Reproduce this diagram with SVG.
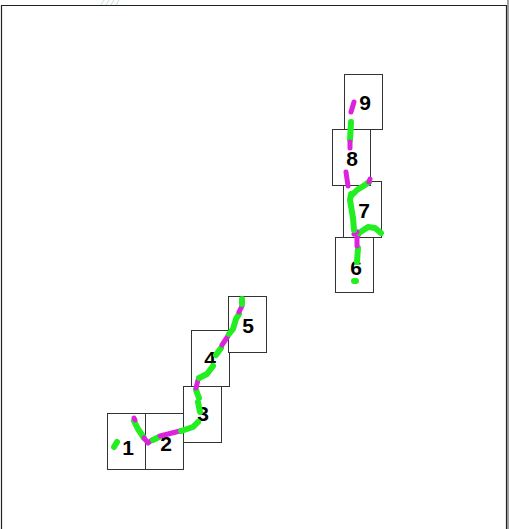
<svg xmlns="http://www.w3.org/2000/svg" width="509" height="529" viewBox="0 0 509 529">
<style>
.box{fill:#fff;stroke:#333;stroke-width:1}
.lbl{font-family:"Liberation Sans",Arial,sans-serif;font-weight:bold;font-size:21px;fill:#000;text-anchor:middle}
.g{fill:none;stroke:#22ee22;stroke-width:6;stroke-linecap:round;stroke-linejoin:round}
.m{fill:none;stroke:#dd22dd;stroke-width:5;stroke-linecap:round;stroke-linejoin:round}
</style>
<rect width="509" height="529" fill="#fff"/>
<path d="M1.5 529V5.5H506.5V529" fill="none" stroke="#222" stroke-width="1.2"/>
<line x1="508" y1="0" x2="508" y2="529" stroke="#444" stroke-width="1"/>
<path d="M101 5l3-5M106 5l3-5M111 5l3-5M116 5l3-5" stroke="#8bb" stroke-width="0.8" opacity="0.6"/>
<g id="node1"><rect class="box" x="107.5" y="413.5" width="38" height="56"/><text class="lbl" x="128" y="455">1</text></g>
<g id="node2"><rect class="box" x="145.5" y="413.5" width="38" height="56"/><text class="lbl" x="166" y="451">2</text></g>
<g id="node3"><rect class="box" x="183.5" y="386.5" width="38" height="56"/><text class="lbl" x="203" y="421">3</text></g>
<g id="node4"><rect class="box" x="191.5" y="330.5" width="38" height="56"/><text class="lbl" x="210" y="366">4</text></g>
<g id="node5"><rect class="box" x="228.5" y="296.5" width="38" height="56"/><text class="lbl" x="248" y="333">5</text></g>
<g id="node6"><rect class="box" x="335.5" y="237.5" width="38" height="55"/><text class="lbl" x="356" y="275">6</text></g>
<g id="node7"><rect class="box" x="343.5" y="181.5" width="38" height="56"/><text class="lbl" x="364" y="218">7</text></g>
<g id="node8"><rect class="box" x="332.5" y="129.5" width="38" height="56"/><text class="lbl" x="352" y="166">8</text></g>
<g id="node9"><rect class="box" x="344.5" y="74.5" width="38" height="55"/><text class="lbl" x="365" y="110">9</text></g>
<g id="connectors">
<path class="g" d="M114 447l3-5"/>
<path class="g" d="M134 421l4 8 6 9"/>
<path class="m" d="M134 418l1 2M144 438l4 5 4-3"/>
<path class="g" d="M153 440l6-3"/>
<path class="m" d="M160 436l20-5"/>
<path class="g" d="M181 431l12-4 5-5"/>
<path class="g" d="M200 412l-2-10"/>
<path class="g" d="M199 398l-3-8"/>
<path class="m" d="M196 388l2-8"/>
<path class="g" d="M199 378l8-4 6-8"/>
<path class="g" d="M216 355l5-7"/>
<path class="m" d="M222 345l6-9"/>
<path class="g" d="M229 334l4-5 3-10 3-5"/>
<path class="m" d="M239 312l3-6"/>
<path class="g" d="M242 304l0-5"/>
<path class="g" d="M354 281h2"/>
<path class="g" d="M357 262l1-14"/>
<path class="m" d="M357 246l0-8 2-5"/>
<path class="g" d="M359 233l9-6 7 1 6 5"/>
<path class="m" d="M354 234l3-2"/>
<path class="g" d="M354 230l-1-12-3-18 1-6"/>
<path class="g" d="M351 196l6-6 8-5 4-3"/>
<path class="m" d="M369 182l1-3"/>
<path class="m" d="M348 186l-2-14"/>
<path class="g" d="M350 140l1-18"/>
<path class="m" d="M350 148l0-6M351 112l3-10"/>
</g>
</svg>
